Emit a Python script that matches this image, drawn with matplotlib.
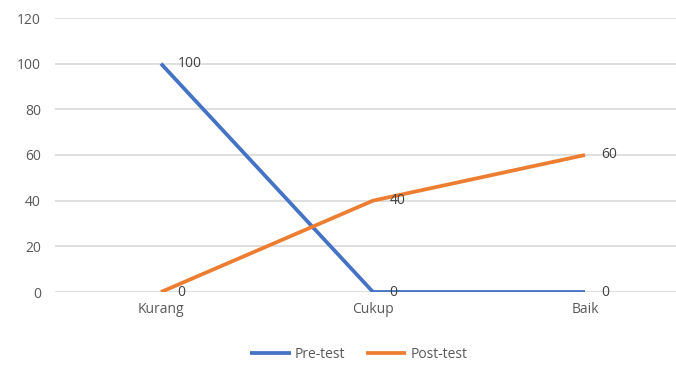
import matplotlib
matplotlib.use("Agg")
import matplotlib.pyplot as plt

categories = ["Kurang", "Cukup", "Baik"]
pre_test = [100, 0, 0]
post_test = [0, 40, 60]
y_ticks = [0, 20, 40, 60, 80, 100, 120]

plt.rcParams["font.family"] = ["Open Sans", "DejaVu Sans"]
text_color = "#595959"

W, H = 676, 368
fig = plt.figure(figsize=(W / 100, H / 100), dpi=100)
# plot area runs a little past the right edge
ax = fig.add_axes([55 / W, (H - 292) / H, 636 / W, 274 / H])

x = list(range(len(categories)))
ax.plot(x, pre_test, color="#4472C4", lw=2.7, label="Pre-test", solid_capstyle="butt")
ax.plot(x, post_test, color="#ED7D31", lw=2.7, label="Post-test", solid_capstyle="butt")

for series in (pre_test, post_test):
    for xi, v in zip(x, series):
        ax.annotate(str(v), (xi, v), xytext=(12, 0), textcoords="offset points",
                    ha="left", va="center", fontsize=10, color="#404040")

ax.set_xlim(-0.5, len(categories) - 0.5)
ax.set_ylim(0, 120)
ax.set_yticks(y_ticks)
ax.set_xticks(x)
ax.set_xticklabels(categories)
ax.grid(axis="y", color="#D9D9D9", lw=1.2)
ax.set_axisbelow(True)
for s in ax.spines.values():
    s.set_visible(False)
ax.tick_params(length=0, colors=text_color, labelsize=10)
ax.tick_params(axis="y", pad=10)
ax.tick_params(axis="x", pad=7)

fig.legend(loc="center", bbox_to_anchor=(359 / W, 1 - 354 / H), ncol=2, frameon=False,
           fontsize=10, labelcolor=text_color, handlelength=2.9, handletextpad=0.3,
           columnspacing=1.5)

fig.savefig("out.png", dpi=100)
